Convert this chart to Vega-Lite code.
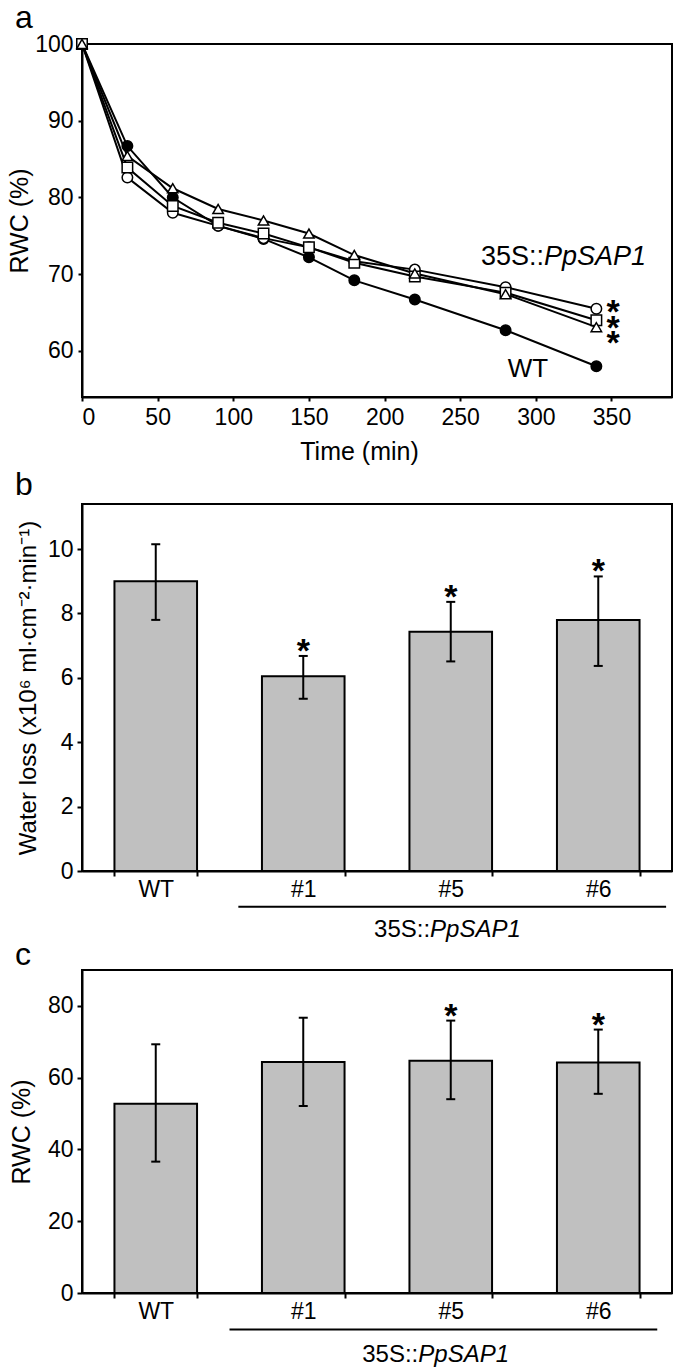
{
  "$schema": "https://vega.github.io/schema/vega-lite/v6.json",
  "padding": {"left": 6, "top": 1, "right": 0, "bottom": 0},
  "spacing": -5,
  "config": {
    "font": "Liberation Sans",
    "view": {"stroke": "black", "strokeWidth": 2},
    "axis": {"domainColor": "black", "domainWidth": 2, "tickColor": "black", "tickWidth": 2, "tickSize": 5, "labelFontSize": 23, "labelColor": "black", "titleFontSize": 25, "titleFontWeight": "normal", "titleColor": "black", "grid": false, "labelPadding": 4, "labelFont": "Liberation Sans", "titleFont": "Liberation Sans"},
    "title": {"anchor": "start", "frame": "group", "fontSize": 32, "fontWeight": "normal", "color": "black", "dx": -67, "baseline": "alphabetic", "font": "Liberation Sans"}
  },
  "vconcat": [
    {
      "spacing": 3,
      "vconcat": [
        {
          "width": 590,
          "height": 353,
          "title": {"text": "a", "offset": -2},
          "layer": [
            {
              "data": {"values": [
                {"series": "WT", "t": 0, "rwc": 100}, {"series": "WT", "t": 30, "rwc": 86.7}, {"series": "WT", "t": 60, "rwc": 80.0}, {"series": "WT", "t": 90, "rwc": 76.3}, {"series": "WT", "t": 120, "rwc": 74.6}, {"series": "WT", "t": 150, "rwc": 72.2}, {"series": "WT", "t": 180, "rwc": 69.2}, {"series": "WT", "t": 220, "rwc": 66.7}, {"series": "WT", "t": 280, "rwc": 62.7}, {"series": "WT", "t": 340, "rwc": 58.0},
                {"series": "L1", "t": 0, "rwc": 100}, {"series": "L1", "t": 30, "rwc": 82.6}, {"series": "L1", "t": 60, "rwc": 78.0}, {"series": "L1", "t": 90, "rwc": 76.3}, {"series": "L1", "t": 120, "rwc": 74.7}, {"series": "L1", "t": 150, "rwc": 73.5}, {"series": "L1", "t": 180, "rwc": 71.7}, {"series": "L1", "t": 220, "rwc": 70.6}, {"series": "L1", "t": 280, "rwc": 68.3}, {"series": "L1", "t": 340, "rwc": 65.5},
                {"series": "L5", "t": 0, "rwc": 100}, {"series": "L5", "t": 30, "rwc": 83.9}, {"series": "L5", "t": 60, "rwc": 78.9}, {"series": "L5", "t": 90, "rwc": 76.7}, {"series": "L5", "t": 120, "rwc": 75.3}, {"series": "L5", "t": 150, "rwc": 73.5}, {"series": "L5", "t": 180, "rwc": 71.5}, {"series": "L5", "t": 220, "rwc": 69.7}, {"series": "L5", "t": 280, "rwc": 67.6}, {"series": "L5", "t": 340, "rwc": 64.0},
                {"series": "L6", "t": 0, "rwc": 100}, {"series": "L6", "t": 30, "rwc": 85.4}, {"series": "L6", "t": 60, "rwc": 81.2}, {"series": "L6", "t": 90, "rwc": 78.5}, {"series": "L6", "t": 120, "rwc": 77.0}, {"series": "L6", "t": 150, "rwc": 75.3}, {"series": "L6", "t": 180, "rwc": 72.5}, {"series": "L6", "t": 220, "rwc": 70.1}, {"series": "L6", "t": 280, "rwc": 67.4}, {"series": "L6", "t": 340, "rwc": 63.1}
              ]},
              "layer": [
                {
                  "mark": {"type": "line", "color": "black", "strokeWidth": 2},
                  "encoding": {
                    "x": {"field": "t", "type": "quantitative", "scale": {"domain": [0, 390], "nice": false}, "axis": {"values": [0, 50, 100, 150, 200, 250, 300, 350], "title": "Time (min)", "tickSize": 4, "labelPadding": 5, "titlePadding": 10, "titleX": 277}},
                    "y": {"field": "rwc", "type": "quantitative", "scale": {"domain": [54, 100], "nice": false, "zero": false}, "axis": {"values": [60, 70, 80, 90, 100], "title": "RWC (%)", "tickSize": 4, "labelPadding": 5, "titlePadding": 2}},
                    "detail": {"field": "series"}
                  }
                },
                {
                  "mark": {"type": "point", "stroke": "black", "strokeWidth": 1.5, "opacity": 1, "size": 110, "filled": true},
                  "encoding": {
                    "x": {"field": "t", "type": "quantitative"},
                    "y": {"field": "rwc", "type": "quantitative"},
                    "shape": {"field": "series", "type": "nominal", "scale": {"domain": ["WT", "L1", "L5", "L6"], "range": ["circle", "circle", "square", "triangle-up"]}, "legend": null},
                    "fill": {"field": "series", "type": "nominal", "scale": {"domain": ["WT", "L1", "L5", "L6"], "range": ["black", "white", "white", "white"]}, "legend": null}
                  }
                }
              ]
            },
            {
              "data": {"values": [{"t": 305.4, "rwc": 71.2, "label": "35S::"}]},
              "mark": {"type": "text", "align": "right", "baseline": "alphabetic", "fontSize": 27, "color": "black"},
              "encoding": {"x": {"field": "t", "type": "quantitative"}, "y": {"field": "rwc", "type": "quantitative"}, "text": {"field": "label"}}
            },
            {
              "data": {"values": [{"t": 305.4, "rwc": 71.2, "label": "PpSAP1"}]},
              "mark": {"type": "text", "align": "left", "baseline": "alphabetic", "fontSize": 27, "fontStyle": "italic", "color": "black"},
              "encoding": {"x": {"field": "t", "type": "quantitative"}, "y": {"field": "rwc", "type": "quantitative"}, "text": {"field": "label"}}
            },
            {
              "data": {"values": [{"t": 294.8, "rwc": 56.6, "label": "WT"}]},
              "mark": {"type": "text", "align": "center", "baseline": "alphabetic", "fontSize": 26, "color": "black"},
              "encoding": {"x": {"field": "t", "type": "quantitative"}, "y": {"field": "rwc", "type": "quantitative"}, "text": {"field": "label"}}
            },
            {
              "data": {"values": [{"t": 351, "rwc": 66.1, "label": "*"}, {"t": 351, "rwc": 64.0, "label": "*"}, {"t": 351, "rwc": 62.1, "label": "*"}]},
              "mark": {"type": "text", "align": "center", "baseline": "alphabetic", "fontSize": 34, "fontWeight": "bold", "dy": 19, "color": "black"},
              "encoding": {"x": {"field": "t", "type": "quantitative"}, "y": {"field": "rwc", "type": "quantitative"}, "text": {"field": "label"}}
            }
          ]
        },
        {
          "width": 590,
          "height": 367,
          "title": {"text": "b", "offset": 2},
          "layer": [
            {
              "data": {"values": [
                {"g": "WT", "v": 9.0, "lo": 7.8, "hi": 10.15, "star": false},
                {"g": "#1", "v": 6.05, "lo": 5.35, "hi": 6.68, "star": true},
                {"g": "#5", "v": 7.43, "lo": 6.51, "hi": 8.36, "star": true},
                {"g": "#6", "v": 7.8, "lo": 6.37, "hi": 9.15, "star": true}
              ]},
              "encoding": {
                "x": {"field": "g", "type": "nominal", "sort": null, "scale": {"domain": ["WT", "#1", "#5", "#6"], "paddingInner": 0.44, "paddingOuter": 0.22}, "axis": {"title": null, "labelAngle": 0, "tickBand": "extent", "labelPadding": 2}}
              },
              "layer": [
                {
                  "mark": {"type": "bar", "fill": "#c0c0c0", "stroke": "black", "strokeWidth": 2},
                  "encoding": {"y": {"field": "v", "type": "quantitative", "scale": {"domain": [0, 11.4], "nice": false}, "axis": {"values": [0, 2, 4, 6, 8, 10], "title": "Water loss (x10⁶ ml·cm⁻²·min⁻¹)", "titleFontSize": 24, "titlePadding": 7}}}
                },
                {
                  "mark": {"type": "rule", "color": "black", "strokeWidth": 2},
                  "encoding": {"y": {"field": "lo", "type": "quantitative"}, "y2": {"field": "hi"}}
                },
                {
                  "mark": {"type": "tick", "color": "black", "thickness": 2, "size": 9, "opacity": 1},
                  "encoding": {"y": {"field": "lo", "type": "quantitative"}}
                },
                {
                  "mark": {"type": "tick", "color": "black", "thickness": 2, "size": 9, "opacity": 1},
                  "encoding": {"y": {"field": "hi", "type": "quantitative"}}
                },
                {
                  "transform": [{"filter": "datum.star"}],
                  "mark": {"type": "text", "text": "*", "fontSize": 34, "fontWeight": "bold", "baseline": "alphabetic", "dy": 6, "color": "black"},
                  "encoding": {"y": {"field": "hi", "type": "quantitative"}}
                }
              ]
            },
            {
              "data": {"values": [{"a": 1.06, "b": 3.96, "y": -1.11, "ty": -2.04, "tx": 2.36, "t1": "35S::", "t2": "PpSAP1"}]},
              "layer": [
                {
                  "mark": {"type": "rule", "color": "black", "strokeWidth": 2},
                  "encoding": {"x": {"field": "a", "type": "quantitative", "scale": {"domain": [0, 4], "nice": false}, "axis": null}, "x2": {"field": "b"}, "y": {"field": "y", "type": "quantitative"}}
                },
                {
                  "mark": {"type": "text", "align": "right", "baseline": "alphabetic", "fontSize": 24, "color": "black"},
                  "encoding": {"x": {"field": "tx", "type": "quantitative"}, "y": {"field": "ty", "type": "quantitative"}, "text": {"field": "t1"}}
                },
                {
                  "mark": {"type": "text", "align": "left", "baseline": "alphabetic", "fontSize": 24, "fontStyle": "italic", "color": "black"},
                  "encoding": {"x": {"field": "tx", "type": "quantitative"}, "y": {"field": "ty", "type": "quantitative"}, "text": {"field": "t2"}}
                }
              ]
            }
          ],
          "resolve": {"scale": {"x": "independent"}, "axis": {"x": "independent"}}
        }
      ]
    },
    {
      "width": 590,
      "height": 323,
      "title": {"text": "c", "offset": -2},
      "layer": [
        {
          "data": {"values": [
            {"g": "WT", "v": 52.7, "lo": 36.6, "hi": 69.3, "star": false},
            {"g": "#1", "v": 64.4, "lo": 52.1, "hi": 76.7, "star": false},
            {"g": "#5", "v": 64.7, "lo": 54.0, "hi": 75.9, "star": true},
            {"g": "#6", "v": 64.2, "lo": 55.5, "hi": 73.4, "star": true}
          ]},
          "encoding": {
            "x": {"field": "g", "type": "nominal", "sort": null, "scale": {"domain": ["WT", "#1", "#5", "#6"], "paddingInner": 0.44, "paddingOuter": 0.22}, "axis": {"title": null, "labelAngle": 0, "tickBand": "extent", "labelPadding": 2}}
          },
          "layer": [
            {
              "mark": {"type": "bar", "fill": "#c0c0c0", "stroke": "black", "strokeWidth": 2},
              "encoding": {"y": {"field": "v", "type": "quantitative", "scale": {"domain": [0, 90], "nice": false}, "axis": {"values": [0, 20, 40, 60, 80], "title": "RWC (%)", "titlePadding": 13}}}
            },
            {
              "mark": {"type": "rule", "color": "black", "strokeWidth": 2},
              "encoding": {"y": {"field": "lo", "type": "quantitative"}, "y2": {"field": "hi"}}
            },
            {
              "mark": {"type": "tick", "color": "black", "thickness": 2, "size": 9, "opacity": 1},
              "encoding": {"y": {"field": "lo", "type": "quantitative"}}
            },
            {
              "mark": {"type": "tick", "color": "black", "thickness": 2, "size": 9, "opacity": 1},
              "encoding": {"y": {"field": "hi", "type": "quantitative"}}
            },
            {
              "transform": [{"filter": "datum.star"}],
              "mark": {"type": "text", "text": "*", "fontSize": 34, "fontWeight": "bold", "baseline": "alphabetic", "dy": 6, "color": "black"},
              "encoding": {"y": {"field": "hi", "type": "quantitative"}}
            }
          ]
        },
        {
          "data": {"values": [{"a": 1.0, "b": 3.9, "y": -10.15, "ty": -19.1, "tx": 2.28, "t1": "35S::", "t2": "PpSAP1"}]},
          "layer": [
            {
              "mark": {"type": "rule", "color": "black", "strokeWidth": 2},
              "encoding": {"x": {"field": "a", "type": "quantitative", "scale": {"domain": [0, 4], "nice": false}, "axis": null}, "x2": {"field": "b"}, "y": {"field": "y", "type": "quantitative"}}
            },
            {
              "mark": {"type": "text", "align": "right", "baseline": "alphabetic", "fontSize": 24, "color": "black"},
              "encoding": {"x": {"field": "tx", "type": "quantitative"}, "y": {"field": "ty", "type": "quantitative"}, "text": {"field": "t1"}}
            },
            {
              "mark": {"type": "text", "align": "left", "baseline": "alphabetic", "fontSize": 24, "fontStyle": "italic", "color": "black"},
              "encoding": {"x": {"field": "tx", "type": "quantitative"}, "y": {"field": "ty", "type": "quantitative"}, "text": {"field": "t2"}}
            }
          ]
        }
      ],
      "resolve": {"scale": {"x": "independent"}, "axis": {"x": "independent"}}
    }
  ]
}
